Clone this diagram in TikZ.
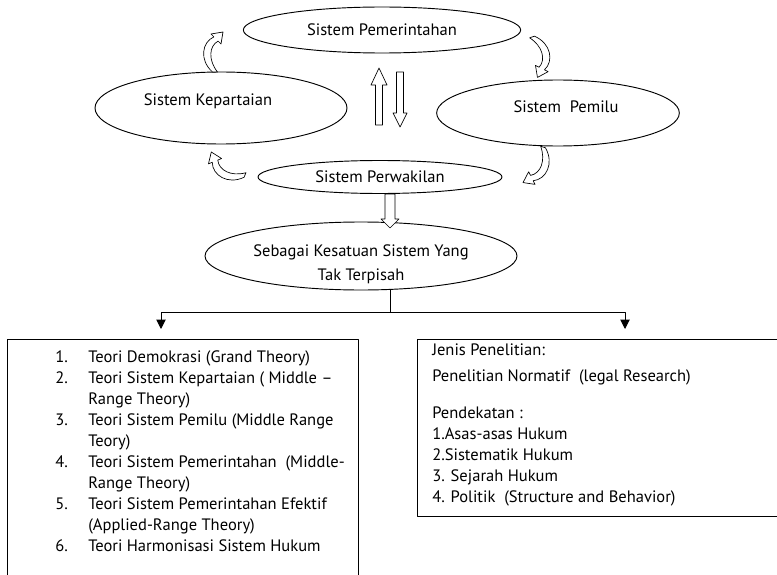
\documentclass[tikz,border=0pt]{standalone}
\usepackage{fontspec}
\setmainfont{PT Sans}
\usetikzlibrary{shapes.geometric,arrows.meta}
\lineskiplimit=-20pt

\tikzset{
  sistem/.style={draw, ellipse, line width=0.7pt, inner sep=0pt, align=center},
  kotak/.style={line width=0.7pt},
  hubung/.style={line width=0.7pt, -{Triangle[length=7pt,width=7pt]}},
  blok/.style={draw, line width=0.5pt, fill=white},
  baris/.style={anchor=base west, inner sep=0pt},
  curvedarrow/.pic={
    \draw[blok] (-2.5,0) .. controls (-16,-12) and (-13,-30) .. (-1.1,-35.1)
      -- (-4,-38) -- (8,-40) -- (6,-28) -- (3.1,-30.9)
      .. controls (-6,-26) and (-7,-12) .. (2.5,0) -- cycle;}
}

\begin{document}
\begin{tikzpicture}[x=0.75pt, y=-0.75pt, font=\fontsize{12.4}{15.75}\selectfont, line join=round]
\useasboundingbox (0,0) rectangle (777,574);
\clip (0,0) rectangle (777,574);
% ellipses
\node[sistem, minimum width=208pt, minimum height=34.5pt] (pemerintahan) at (382,30) {Sistem Pemerintahan};
\node[sistem, minimum width=189pt, minimum height=54pt] (kepartaian) at (221,108) {};
\node at (208,101) {Sistem Kepartaian};
\node[sistem, minimum width=182pt, minimum height=49.5pt] (pemilu) at (558,113) {};
\node at (566,107) {Sistem~~Pemilu};
\node[sistem, minimum width=183pt, minimum height=24.75pt] (perwakilan) at (380,177) {Sistem Perwakilan};
\node[sistem, minimum width=234pt, minimum height=51pt] (kesatuan) at (361,256) {};
\node[align=center] at (361,264) {Sebagai Kesatuan Sistem Yang\\[2pt]Tak Terpisah};
% curved arrows of the cycle
\pic[rotate=0] at (215,72) {curvedarrow};
\pic[rotate=199] at (532,37) {curvedarrow};
\pic[rotate=162] at (543,147) {curvedarrow};
\pic[rotate=67] at (245,175) {curvedarrow};
% block arrows
\draw[blok] (379,68) -- (387,85) -- (382.5,85) -- (382.5,125) -- (375.5,125) -- (375.5,85) -- (371,85) -- cycle;
\draw[blok] (400,127) -- (407,113) -- (403.5,113) -- (403.5,72) -- (396.5,72) -- (396.5,113) -- (393,113) -- cycle;
\draw[blok] (390,228) -- (399,219) -- (395,219) -- (395,194) -- (385,194) -- (385,219) -- (381,219) -- cycle;
% branches
\coordinate (cabang) at (390,312);
\coordinate (kiriatas) at (161,329);
\coordinate (kananatas) at (625,329);
\draw[line width=0.7pt] (cabang |- kesatuan.south) -- (cabang);
\draw[hubung] (cabang) -| (kiriatas);
\draw[hubung] (cabang) -| (kananatas);
% boxes
\draw[kotak] (7,339) rectangle (358,600);
\draw[kotak] (417,339) rectangle (800,516);
\foreach \nomor/\baris in {1/0, 2/1, 3/3, 4/5, 5/7, 6/9}
  \node[baris] (nomor-\nomor) at (55,362+21*\baris) {\nomor.};
\foreach \teks [count=\i from 0] in {%
    {Teori Demokrasi (Grand Theory)},
    {Teori Sistem Kepartaian ( Middle --},
    {Range Theory)},
    {Teori Sistem Pemilu (Middle Range},
    {Teory)},
    {Teori Sistem Pemerintahan~ (Middle-},
    {Range Theory)},
    {Teori Sistem Pemerintahan Efektif},
    {(Applied-Range Theory)},
    {Teori Harmonisasi Sistem Hukum}}
  \node[baris] (teori-\i) at (88,362+21*\i) {\teks};
\node[anchor=north west, align=left, inner sep=0pt] (penelitian) at (432,344) {%
  Jenis Penelitian:\\[3.75pt]
  Penelitian Normatif~ (legal Research)\\[12pt]
  Pendekatan :\\
  1.Asas-asas Hukum\\
  2.Sistematik Hukum\\
  3. Sejarah Hukum\\
  4. Politik~ (Structure and Behavior)};
\end{tikzpicture}
\end{document}
